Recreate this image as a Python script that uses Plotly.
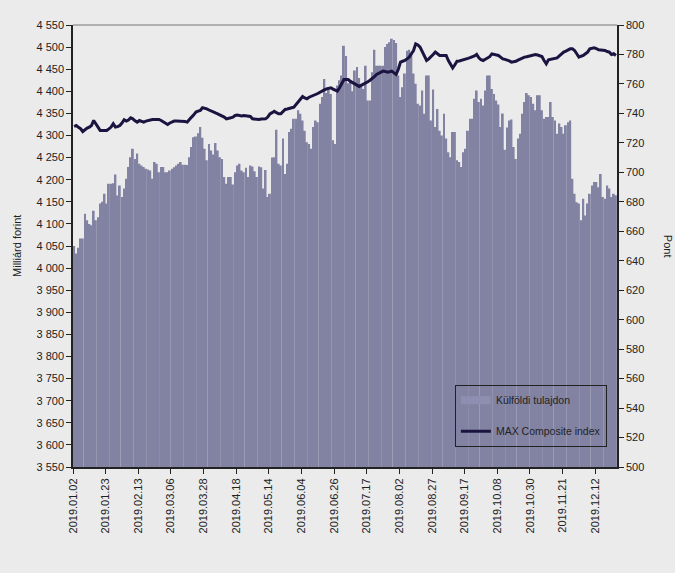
import plotly.graph_objects as go

# Foreign ownership (billion HUF), one value per trading day
kulfoldi = [
    4050, 4033, 4046, 4067, 4067, 4123, 4108, 4100, 4097, 4130, 4108, 4115, 4146, 4150, 4168,
    4146, 4191, 4191, 4192, 4212, 4164, 4187, 4161, 4180, 4202, 4229, 4251, 4270, 4247, 4259,
    4236, 4232, 4229, 4225, 4223, 4221, 4202, 4240, 4236, 4217, 4229, 4229, 4217, 4217, 4221,
    4225, 4228, 4232, 4236, 4240, 4234, 4234, 4233, 4251, 4274, 4296, 4298, 4305, 4319, 4295,
    4270, 4244, 4281, 4266, 4257, 4283, 4266, 4251, 4247, 4206, 4191, 4206, 4206, 4189, 4217,
    4232, 4236, 4221, 4217, 4227, 4206, 4232, 4230, 4219, 4206, 4230, 4228, 4180, 4222, 4161,
    4168, 4250, 4251, 4313, 4236, 4232, 4293, 4213, 4236, 4308, 4315, 4338, 4338, 4357, 4349,
    4334, 4311, 4285, 4281, 4270, 4319, 4334, 4330, 4372, 4387, 4428, 4396, 4410, 4394, 4289,
    4281, 4413, 4425, 4436, 4503, 4480, 4418, 4421, 4400, 4447, 4455, 4430, 4413, 4405, 4458,
    4379, 4379, 4443, 4494, 4458, 4458, 4458, 4458, 4500, 4507, 4511, 4519, 4516, 4509, 4436,
    4387, 4409, 4440, 4492, 4494, 4485, 4440, 4417, 4372, 4368, 4402, 4349, 4436, 4436, 4334,
    4404, 4319, 4360, 4311, 4300, 4349, 4293, 4262, 4251, 4308, 4308, 4244, 4240, 4229, 4262,
    4270, 4311, 4338, 4338, 4383, 4402, 4376, 4383, 4368, 4402, 4436, 4436, 4405, 4394, 4379,
    4370, 4319, 4350, 4268, 4318, 4334, 4336, 4274, 4247, 4293, 4304, 4349, 4376, 4396, 4391,
    4387, 4372, 4357, 4391, 4391, 4357, 4338, 4342, 4342, 4376, 4342, 4334, 4304, 4327, 4319,
    4304, 4323, 4330, 4334, 4202, 4168, 4149, 4146, 4108, 4157, 4119, 4146, 4168, 4187, 4195,
    4195, 4183, 4213, 4161, 4157, 4187, 4180, 4161, 4168, 4165,
]

# MAX Composite index (points)
max_index = [
    731.1, 731.8, 730.5, 729.6, 727.7, 729.0, 730.0, 730.7, 731.8, 735.2, 732.5, 730.7, 728.4, 728.4, 728.6,
    728.4, 729.5, 730.7, 733.0, 730.7, 731.0, 731.8, 733.5, 735.7, 734.8, 735.5, 737.0, 736.3, 735.0, 734.1,
    735.2, 734.5, 734.1, 734.8, 735.2, 735.9, 735.9, 735.9, 735.9, 735.9, 735.2, 734.1, 733.2, 732.5, 733.5,
    734.3, 734.8, 734.8, 734.8, 734.8, 734.8, 734.5, 734.1, 735.5, 737.5, 739.0, 740.9, 741.5, 742.0, 743.8,
    743.5, 743.1, 742.3, 741.5, 741.0, 740.3, 739.7, 739.0, 738.3, 737.5, 736.3, 736.5, 737.0, 737.5, 738.6,
    738.9, 738.6, 738.3, 738.6, 738.5, 738.0, 737.9, 736.3, 736.0, 735.9, 735.9, 736.2, 736.3, 736.3, 737.5,
    739.7, 740.5, 741.5, 740.5, 739.7, 739.7, 741.0, 742.7, 743.0, 743.6, 743.8, 744.2, 746.0, 748.0, 749.9,
    751.5, 750.5, 749.9, 751.0, 751.5, 752.2, 753.0, 753.5, 754.4, 755.5, 756.0, 756.7, 757.0, 757.4, 756.5,
    755.6, 755.1, 757.4, 760.0, 763.0, 763.0, 763.0, 761.7, 761.0, 760.1, 759.2, 758.3, 759.0, 759.7, 760.5,
    761.5, 762.5, 763.5, 765.0, 766.5, 767.3, 768.0, 768.7, 768.5, 768.0, 768.3, 768.7, 767.5, 766.4, 770.0,
    774.8, 775.4, 775.9, 777.0, 778.2, 780.5, 782.7, 787.2, 786.5, 785.0, 782.0, 779.3, 775.9, 777.0, 778.2,
    780.0, 781.6, 780.5, 779.3, 779.3, 779.3, 779.3, 775.9, 773.5, 770.9, 773.0, 775.4, 775.6, 775.9, 776.5,
    777.0, 777.3, 777.8, 778.2, 779.0, 780.0, 777.7, 776.5, 775.9, 776.8, 777.7, 778.5, 780.4, 780.0, 779.6,
    779.3, 778.2, 777.0, 776.7, 776.4, 775.6, 774.8, 775.0, 775.4, 776.2, 777.0, 777.6, 778.2, 778.5, 778.8,
    779.3, 779.6, 780.0, 779.6, 779.0, 778.6, 775.9, 773.6, 776.4, 776.7, 777.0, 777.4, 777.7, 779.0, 780.4,
    781.6, 782.3, 783.1, 783.8, 783.8, 782.7, 780.5, 778.2, 778.8, 779.3, 780.5, 781.6, 783.8, 784.2, 784.5,
    784.0, 783.1, 783.0, 783.0, 782.7, 782.0, 781.6, 780.0, 780.5, 779.3,
]

tick_labels = [
    "2019.01.02", "2019.01.23", "2019.02.13", "2019.03.06", "2019.03.28", "2019.04.18",
    "2019.05.14", "2019.06.04", "2019.06.26", "2019.07.17", "2019.08.02", "2019.08.27",
    "2019.09.17", "2019.10.08", "2019.10.30", "2019.11.21", "2019.12.12",
]
label_every = 15

n = len(kulfoldi)
days = list(range(n))

BG = "#EBEBEB"
BAR = "#8282A2"
LINE = "#1B1440"
FONT = "Liberation Sans"
TXT = "#222222"

fig = go.Figure()
fig.add_trace(go.Bar(
    x=days, y=kulfoldi, name="Külföldi tulajdon",
    marker=dict(color=BAR, line=dict(width=0)),
    showlegend=False,
))
# legend-only swatch for the bar series (wide rectangle as in the original)
fig.add_trace(go.Scatter(
    x=[None], y=[None], name="Külföldi tulajdon", mode="lines",
    line=dict(color="#8E8EB0", width=8), legendgroup="a",
))
fig.add_trace(go.Scatter(
    x=days, y=max_index, name="MAX Composite index", yaxis="y2",
    mode="lines", line=dict(color=LINE, width=3),
    legendgroup="b",
))

fig.update_layout(
    width=675, height=573,
    margin=dict(l=73, r=58, t=25, b=106),
    paper_bgcolor=BG, plot_bgcolor=BG,
    separators=", ",
    font=dict(family=FONT, size=11, color=TXT),
    bargap=0.12,
    showlegend=True,
    legend=dict(
        x=0.702, y=0.186, xanchor="left", yanchor="top",
        bgcolor="rgba(0,0,0,0)", bordercolor=TXT, borderwidth=1,
        font=dict(family=FONT, size=10.5, color=TXT),
        tracegroupgap=12, itemwidth=30,
    ),
    xaxis=dict(
        range=[-0.5, n - 0.5],
        tickmode="array",
        tickvals=[i * label_every - 0.5 for i in range(len(tick_labels))],
        ticktext=tick_labels,
        tickangle=-90,
        ticks="outside", ticklen=5, tickwidth=1, tickcolor=TXT,
        showline=True, linecolor=TXT, linewidth=2,
        showgrid=False, zeroline=False,
        tickfont=dict(family=FONT, size=11, color=TXT),
    ),
    yaxis=dict(
        range=[3550, 4550], dtick=50, tickformat=",d",
        ticks="outside", ticklen=5, tickwidth=1, tickcolor=TXT,
        showline=True, linecolor=TXT, linewidth=1.5,
        showgrid=False, zeroline=False,
        tickfont=dict(family=FONT, size=11, color=TXT),
    ),
    yaxis2=dict(
        range=[500, 800], dtick=20, overlaying="y", side="right",
        ticks="outside", ticklen=5, tickwidth=1, tickcolor=TXT,
        showline=True, linecolor=TXT, linewidth=1.5,
        showgrid=False, zeroline=False,
        tickfont=dict(family=FONT, size=11, color=TXT),
    ),
    shapes=[dict(type="line", xref="paper", yref="paper", x0=0, x1=1, y0=1, y1=1,
                 line=dict(color="#777777", width=1))],
    annotations=[
        dict(text="Milliárd forint", xref="paper", yref="paper", x=-0.103, y=0.5,
             xanchor="center", yanchor="middle",
             textangle=-90, showarrow=False, font=dict(family=FONT, size=11, color=TXT)),
        dict(text="Pont", xref="paper", yref="paper", x=1.094, y=0.5,
             xanchor="center", yanchor="middle",
             textangle=90, showarrow=False, font=dict(family=FONT, size=11, color=TXT)),
    ],
)

fig.write_html(
    "out.html",
    config={"displayModeBar": False},
    post_script="document.body.style.margin='0';document.body.style.background='#EBEBEB';",
)
